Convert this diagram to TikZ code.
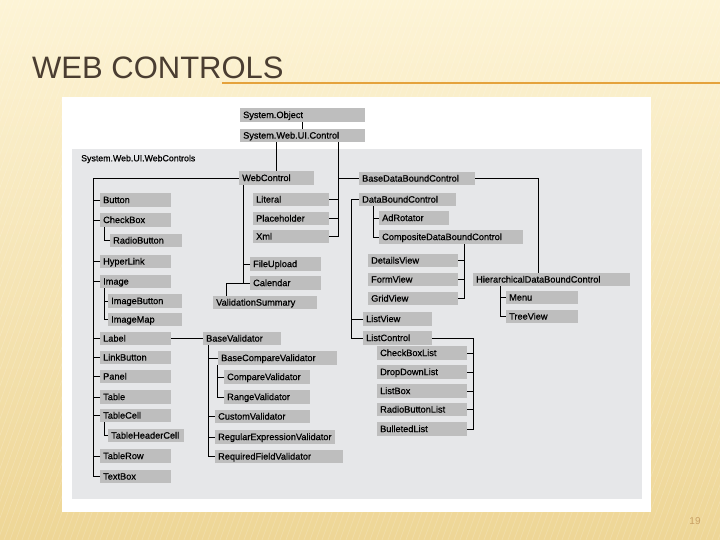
\documentclass[tikz,border=0pt]{standalone}
\usepackage{fontspec}
\setmainfont{Liberation Sans}
\newfontfamily\boxfont[FakeBold=0.7]{Liberation Sans}
\definecolor{boxgray}{HTML}{BEBEBE}
\definecolor{panelgray}{HTML}{E6E7E9}
\definecolor{titlebrown}{HTML}{4A3D31}
\definecolor{ruleorange}{HTML}{E5A23C}
\definecolor{pagetan}{HTML}{C8A064}
\definecolor{creamtop}{HTML}{FDF4D6}
\definecolor{creambot}{HTML}{EED696}
\tikzset{
  cls/.style={fill=boxgray, anchor=west, inner xsep=3pt, inner ysep=0pt,
    text width=#1, minimum height=13.5pt, text height=7.2pt, text depth=1pt,
    align=left, font={\boxfont\fontsize{9.2}{10}\selectfont\hyphenpenalty=10000}},
  link/.style={line width=0.9pt},
}
\begin{document}
\begin{tikzpicture}[x=1pt,y=-1pt]
        \useasboundingbox (0,0) rectangle (720,540);
        % Slide background and title
        \fill[top color=creamtop, bottom color=creambot] (0,0) rectangle (720,540);
        \foreach \i in {-200,-194,...,720}
          \draw[white, opacity=0.18, line width=0.7pt] (\i,540) -- (\i+196,0);
        \node[anchor=base west, inner sep=0pt, text=titlebrown,
          font=\fontsize{31}{31}\selectfont] (title) at (32,79) {WEB CONTROLS};
        \draw[ruleorange, line width=1.5pt] (222,83) -- (720,83);
        \node[text=pagetan, font=\fontsize{10}{12}\selectfont] (pagenum) at (695,521) {19};

        % Panels
        \fill[white] (62,97) rectangle (651,512);
        \fill[panelgray] (72,149) rectangle (642,499);
        \node[anchor=west, inner sep=0pt, font=\boxfont\fontsize{8.8}{10}\selectfont] (nslabel) at (81,159) {System.Web.UI.WebControls};

        % Root classes
        \node[cls=119pt] (sysobj) at (240,115) {System.Object};
        \node[cls=119pt] (uicontrol) at (240,135.5) {System.Web.UI.Control};
        \node[cls=69pt] (webcontrol) at (239,178) {WebControl};

        % Left column
        \node[cls=65pt] (button) at (100,200) {Button};
        \node[cls=65pt] (checkbox) at (100,220) {CheckBox};
        \node[cls=66pt] (radiobutton) at (110,240.5) {RadioButton};
        \node[cls=65pt] (hyperlink) at (100,261.5) {HyperLink};
        \node[cls=65pt] (image) at (100,281.5) {Image};
        \node[cls=68pt] (imagebutton) at (108,301) {ImageButton};
        \node[cls=68pt] (imagemap) at (108,319.5) {ImageMap};
        \node[cls=65pt] (label) at (100,338.5) {Label};
        \node[cls=65pt] (linkbutton) at (100,357.5) {LinkButton};
        \node[cls=65pt] (panel) at (100,376.5) {Panel};
        \node[cls=65pt] (table) at (100,397) {Table};
        \node[cls=65pt] (tablecell) at (100,415.5) {TableCell};
        \node[cls=70pt] (headercell) at (108,435.5) {TableHeaderCell};
        \node[cls=65pt] (tablerow) at (100,456) {TableRow};
        \node[cls=65pt] (textbox) at (100,476.5) {TextBox};

        % WebControl children
        \node[cls=70pt] (literal) at (253,199.5) {Literal};
        \node[cls=70pt] (placeholder) at (253,218.5) {Placeholder};
        \node[cls=70pt] (xml) at (253,236.5) {Xml};
        \node[cls=65pt] (fileupload) at (250,264) {FileUpload};
        \node[cls=98pt] (valsummary) at (213,302.5) {ValidationSummary};
        \node[cls=65pt] (calendar) at (250,283) {Calendar};

        % Validators
        \node[cls=72pt] (basevalidator) at (203,338.5) {BaseValidator};
        \node[cls=113pt] (basecompare) at (218,358) {BaseCompareValidator};
        \node[cls=80pt] (comparevalidator) at (224,377) {CompareValidator};
        \node[cls=80pt] (rangevalidator) at (224,397) {RangeValidator};
        \node[cls=89pt] (customvalidator) at (215,416.5) {CustomValidator};
        \node[cls=114pt] (regexvalidator) at (215,437) {RegularExpressionValidator};
        \node[cls=122pt] (requiredvalidator) at (215,456.5) {RequiredFieldValidator};

        % Data bound controls
        \node[cls=110pt] (basedatabound) at (359,178.5) {BaseDataBoundControl};
        \node[cls=91pt] (databound) at (359,199.5) {DataBoundControl};
        \node[cls=64pt] (adrotator) at (379,218) {AdRotator};
        \node[cls=138pt] (compositedb) at (379,237) {CompositeDataBoundControl};
        \node[cls=84pt] (detailsview) at (368,260.5) {DetailsView};
        \node[cls=84pt] (formview) at (368,279.5) {FormView};
        \node[cls=84pt] (gridview) at (368,298.5) {GridView};
        \node[cls=63pt] (listview) at (363,319) {ListView};
        \node[cls=63pt] (listcontrol) at (363,338) {ListControl};
        \node[cls=151pt] (hierarchical) at (473,279.5) {HierarchicalDataBoundControl};
        \node[cls=66pt] (menu) at (506,297.5) {Menu};
        \node[cls=66pt] (treeview) at (506,316.5) {TreeView};
        \node[cls=84pt] (checkboxlist) at (377,353) {CheckBoxList};
        \node[cls=84pt] (dropdownlist) at (377,372) {DropDownList};
        \node[cls=84pt] (listbox) at (377,391) {ListBox};
        \node[cls=84pt] (radiolist) at (377,409.5) {RadioButtonList};
        \node[cls=84pt] (bulletedlist) at (377,429) {BulletedList};

        % Bus lines
        \coordinate (lbus) at (93,0);
        \coordinate (lsub) at (104.5,0);
        \coordinate (ctrlbus) at (338,0);
        \coordinate (wbus) at (243,0);
        \coordinate (vsx) at (226,0);
        \coordinate (vbus) at (208,0);
        \coordinate (vsub) at (217,0);
        \coordinate (dbus) at (351,0);
        \coordinate (dsub) at (373,0);
        \coordinate (cbus) at (464,0);
        \coordinate (hbus) at (538,0);
        \coordinate (hsub) at (500,0);
        \coordinate (lcbus) at (473,0);

        % Connectors
        \draw[link] (sysobj.south) -- (uicontrol.north);
        \draw[link] (webcontrol.north) -- (webcontrol.north |- uicontrol.south);
        \draw[link] (ctrlbus |- uicontrol.south) |- (xml.east);
        \foreach \n in {literal,placeholder}
          \draw[link] (\n.east) -- (ctrlbus |- \n.east);
        \draw[link] (ctrlbus |- basedatabound.west) -- (basedatabound.west);

        \draw[link] (webcontrol.west) -| (lbus |- textbox.west) -- (textbox.west);
        \foreach \n in {button,checkbox,hyperlink,image,label,linkbutton,panel,table,tablecell,tablerow}
          \draw[link] (\n.west) -- (lbus |- \n.west);
        \draw[link] (lsub |- checkbox.south) |- (radiobutton.west);
        \draw[link] (lsub |- image.south) |- (imagemap.west);
        \draw[link] (imagebutton.west) -- (lsub |- imagebutton.west);
        \draw[link] (lsub |- tablecell.south) |- (headercell.west);

        \draw[link] (wbus |- webcontrol.south) |- (calendar.west);
        \draw[link] (fileupload.west) -- (wbus |- fileupload.west);
        \draw[link] (wbus |- calendar.west) -| (vsx |- valsummary.north);

        \draw[link] (label.east) -- (basevalidator.west);
        \draw[link] (vbus |- basevalidator.south) |- (requiredvalidator.west);
        \foreach \n in {basecompare,customvalidator,regexvalidator}
          \draw[link] (\n.west) -- (vbus |- \n.west);
        \draw[link] (vsub |- basecompare.south) |- (rangevalidator.west);
        \draw[link] (comparevalidator.west) -- (vsub |- comparevalidator.west);

        \draw[link] (databound.west) -| (dbus |- listcontrol.west) -- (listcontrol.west);
        \draw[link] (listview.west) -- (dbus |- listview.west);
        \draw[link] (dsub |- databound.south) |- (compositedb.west);
        \draw[link] (adrotator.west) -- (dsub |- adrotator.west);
        \draw[link] (cbus |- compositedb.south) |- (gridview.east);
        \foreach \n in {detailsview,formview}
          \draw[link] (\n.east) -- (cbus |- \n.east);

        \draw[link] (basedatabound.east) -| (hbus |- hierarchical.north);
        \draw[link] (hsub |- hierarchical.south) |- (treeview.west);
        \draw[link] (menu.west) -- (hsub |- menu.west);

        \draw[link] (listcontrol.east) -| (lcbus |- bulletedlist.east) -- (bulletedlist.east);
        \foreach \n in {checkboxlist,dropdownlist,listbox,radiolist}
          \draw[link] (\n.east) -- (lcbus |- \n.east);
    \end{tikzpicture}
\end{document}
